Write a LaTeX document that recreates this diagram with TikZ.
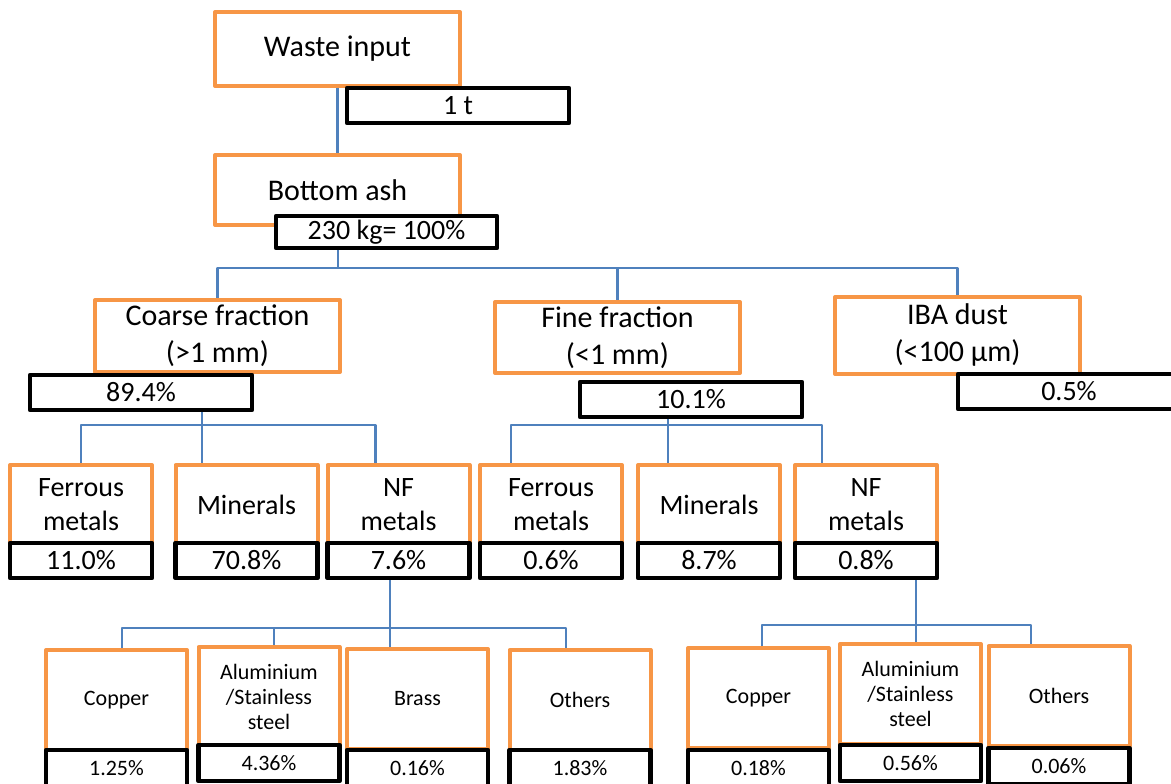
\documentclass[tikz,border=0pt]{standalone}
\usepackage{fontspec}
\setmainfont{Carlito}
\usetikzlibrary{positioning}

\definecolor{boxorange}{HTML}{F79646}
\definecolor{linkblue}{HTML}{4F81BD}

\begin{document}
\begin{tikzpicture}[x=1pt, y=-1pt, line join=round]
        \tikzset{stage/.style={draw=boxorange, line width=4pt, fill=white, inner sep=0pt,
                align=center, minimum width=245pt, font=\fontsize{30}{37}\selectfont}}
        \tikzset{share/.style={draw=black, line width=4.5pt, fill=white, inner sep=0pt,
                minimum width=222pt, minimum height=35pt, font=\fontsize{28}{32}\selectfont}}
        \tikzset{stream/.style={stage, minimum width=142pt, minimum height=80pt,
                font=\fontsize{28}{34}\selectfont}}
        \tikzset{streamshare/.style={share, minimum width=142pt}}
        \tikzset{metal/.style={stage, minimum width=141pt, minimum height=100pt,
                font=\fontsize{22}{25}\selectfont}}
        \tikzset{metalshare/.style={share, minimum width=141pt, minimum height=36pt,
                font=\fontsize{22}{25}\selectfont}}
        \tikzset{link/.style={draw=linkblue, line width=2.5pt}}

        \useasboundingbox (0,0) rectangle (1171,784);
        \clip (0,0) rectangle (1171,784);

        % input and bottom ash
        \node[stage, minimum height=74pt] (waste) at (337.5,49) {Waste input};
        \node[share] (wastept) at (458,105.5) {1 t};
        \node[stage, minimum height=70pt] (ash) at (337.5,190) {Bottom ash};
        \node[share, minimum width=221pt, minimum height=32pt] (ashpct) at (386.5,232) {230 kg= 100\%};

        % fractions
        \node[stage, minimum height=72pt] (coarse) at (217.5,336) {Coarse fraction\\(>1 mm)};
        \node[share] (coarsept) at (141,392.5) {89.4\%};
        \node[stage, minimum height=71pt] (fine) at (617.5,337.5) {Fine fraction\\(<1 mm)};
        \node[share] (finept) at (691,399.5) {10.1\%};
        \node[stage, minimum height=77pt] (dust) at (957.5,335.5) {IBA dust\\(<100 µm)};
        \node[share] (dustpt) at (1069,391.5) {0.5\%};

        % streams of the coarse fraction
        \node[stream] (cfer) at (81,505) {Ferrous\\metals};
        \node[streamshare] (cferpt) at (81,560.5) {11.0\%};
        \node[stream] (cmin) at (246.5,505) {Minerals};
        \node[streamshare] (cminpt) at (246.5,560.5) {70.8\%};
        \node[stream] (cnf) at (398.5,505) {NF\\metals};
        \node[streamshare] (cnfpt) at (398.5,560.5) {7.6\%};

        % streams of the fine fraction
        \node[stream] (ffer) at (551,505) {Ferrous\\metals};
        \node[streamshare] (fferpt) at (551,560.5) {0.6\%};
        \node[stream] (fmin) at (709,505) {Minerals};
        \node[streamshare] (fminpt) at (709,560.5) {8.7\%};
        \node[stream] (fnf) at (866,505) {NF\\metals};
        \node[streamshare] (fnfpt) at (866,560.5) {0.8\%};

        % NF metals, coarse
        \node[metal] (cu1) at (116.5,700) {Copper};
        \node[metalshare] (cu1pt) at (116.5,768) {1.25\%};
        \node[metal] (al1) at (269,697) {Aluminium\\/Stainless\\steel};
        \node[metalshare] (al1pt) at (269,763) {4.36\%};
        \node[metal] (brass) at (417.5,699) {Brass};
        \node[metalshare] (brasspt) at (417.5,768) {0.16\%};
        \node[metal] (oth1) at (580,700) {Others};
        \node[metalshare] (oth1pt) at (580,768) {1.83\%};

        % NF metals, fine
        \node[metal] (cu2) at (758.5,698) {Copper};
        \node[metalshare] (cu2pt) at (758.5,768) {0.18\%};
        \node[metal] (al2) at (910.5,694) {Aluminium\\/Stainless\\steel};
        \node[metalshare] (al2pt) at (910.5,763) {0.56\%};
        \node[metal] (oth2) at (1059,696) {Others};
        \node[metalshare] (oth2pt) at (1059,766) {0.06\%};

        \coordinate (ashbus) at (338,268);
        \coordinate (cbus) at (202,425);
        \coordinate (fbus) at (668,425);
        \coordinate (cnbus) at (390,628);
        \coordinate (fnbus) at (916,625);

        \draw[link] (waste) -- (ash);
        \draw[link] (ashbus |- ashpct.south) -- (ashbus);
        \draw[link] (ashbus) -| (coarse.north);
        \draw[link] (ashbus) -| (fine.north);
        \draw[link] (ashbus) -| (dust.north);

        \draw[link] (cbus |- coarsept.south) -- (cbus |- cmin.north);
        \draw[link] (cbus) -| (cfer.north);
        \draw[link] (cbus) -| ([xshift=-23pt]cnf.north);

        \draw[link] (fbus |- finept.south) -- (fbus |- fmin.north);
        \draw[link] (fbus) -| ([xshift=-40pt]ffer.north);
        \draw[link] (fbus) -| ([xshift=-44pt]fnf.north);

        \draw[link] (cnbus |- cnfpt.south) -- (cnbus |- brass.north);
        \draw[link] (cnbus) -| ([xshift=5.5pt]cu1.north);
        \draw[link] (cnbus) -| ([xshift=5pt]al1.north);
        \draw[link] (cnbus) -| ([xshift=-14pt]oth1.north);

        \draw[link] (fnbus |- fnfpt.south) -- (fnbus |- al2.north);
        \draw[link] (fnbus) -| ([xshift=3.5pt]cu2.north);
        \draw[link] (fnbus) -| ([xshift=-28pt]oth2.north);
\end{tikzpicture}
\end{document}
